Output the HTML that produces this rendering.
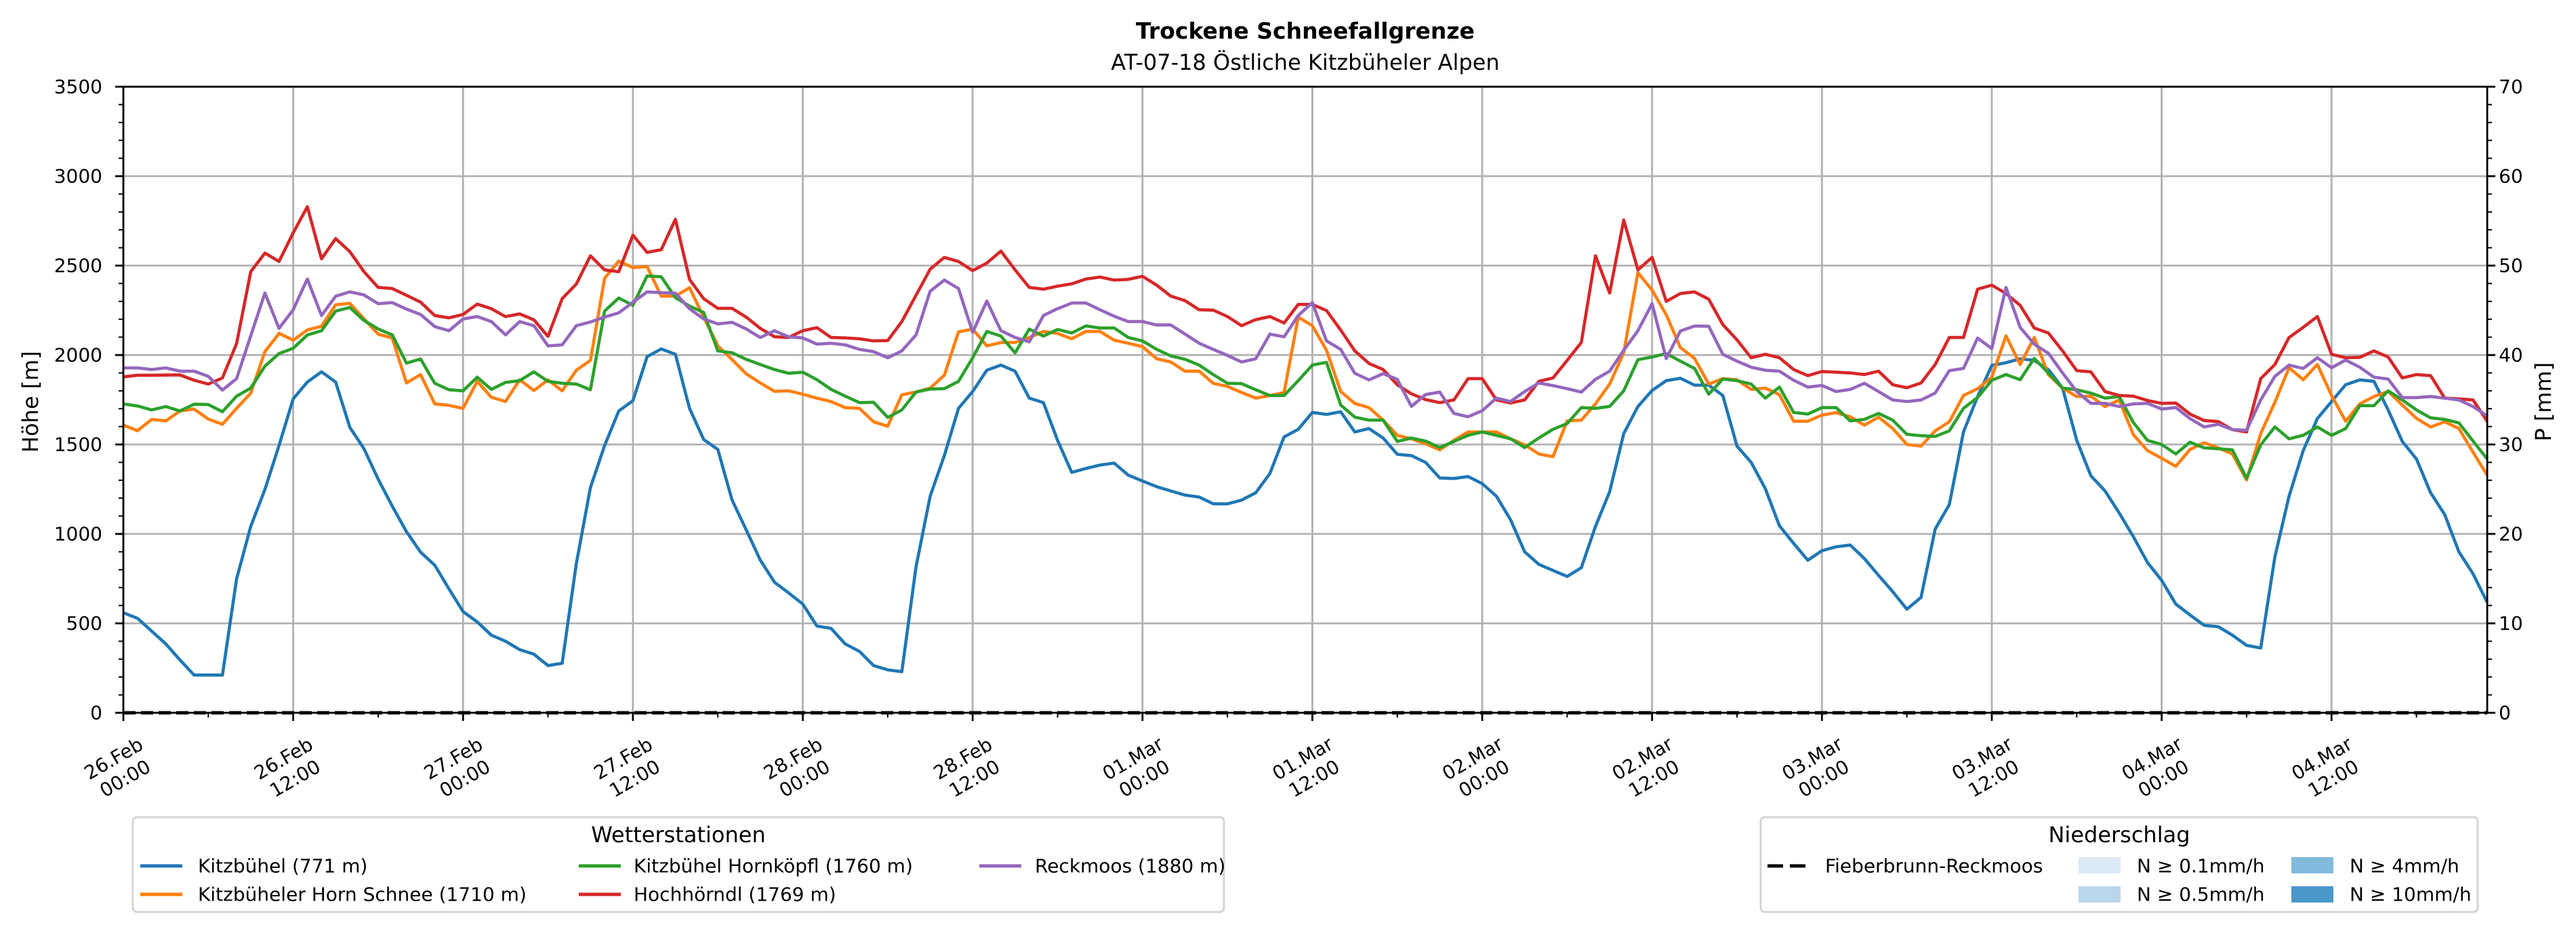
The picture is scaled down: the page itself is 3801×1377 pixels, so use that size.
<!DOCTYPE html>
<html><head><meta charset="utf-8">
<style>
html,body{margin:0;padding:0;background:#fff;}
svg{display:block;font-family:"DejaVu Sans","Liberation Sans",sans-serif;}
</style></head>
<body>
<svg id="chart" width="3801" height="1377" viewBox="0 0 3801 1377" xmlns="http://www.w3.org/2000/svg">
<rect x="0" y="0" width="3801" height="1377" fill="#fff"/>
<text x="1926" y="57" text-anchor="middle" font-size="33" font-weight="bold" fill="#000">Trockene Schneefallgrenze</text>
<text x="1926" y="103" text-anchor="middle" font-size="32" fill="#000">AT-07-18 Östliche Kitzbüheler Alpen</text>
<text x="0" y="0" transform="translate(45,593) rotate(-90)" text-anchor="middle" dominant-baseline="central" font-size="32" fill="#000">Höhe [m]</text>
<text x="0" y="0" transform="translate(3753,593) rotate(-90)" text-anchor="middle" dominant-baseline="central" font-size="32" fill="#000">P [mm]</text>
<g id="grid"></g>
<g id="series"></g>
<g id="axes"></g>

<g>
<rect x="196" y="1206" width="1610" height="140" rx="6" fill="#fff" stroke="#d5d5d5" stroke-width="3"/>
<text x="1001" y="1232" text-anchor="middle" dominant-baseline="central" font-size="32">Wetterstationen</text>
<g><line x1="207" y1="1278" x2="269" y2="1278" stroke="#1f77b4" stroke-width="5"/><text x="292" y="1278" dominant-baseline="central" font-size="28">Kitzbühel (771 m)</text></g>
<g><line x1="207" y1="1320" x2="269" y2="1320" stroke="#ff7f0e" stroke-width="5"/><text x="292" y="1320" dominant-baseline="central" font-size="28">Kitzbüheler Horn Schnee (1710 m)</text></g>
<g><line x1="854" y1="1278" x2="916" y2="1278" stroke="#2ca02c" stroke-width="5"/><text x="935" y="1278" dominant-baseline="central" font-size="28">Kitzbühel Hornköpfl (1760 m)</text></g>
<g><line x1="854" y1="1320" x2="916" y2="1320" stroke="#d62728" stroke-width="5"/><text x="935" y="1320" dominant-baseline="central" font-size="28">Hochhörndl (1769 m)</text></g>
<g><line x1="1445" y1="1278" x2="1507" y2="1278" stroke="#9467bd" stroke-width="5"/><text x="1527" y="1278" dominant-baseline="central" font-size="28">Reckmoos (1880 m)</text></g>
</g>

<g>
<rect x="2598" y="1206" width="1058" height="140" rx="6" fill="#fff" stroke="#d5d5d5" stroke-width="3"/>
<text x="3127" y="1232" text-anchor="middle" dominant-baseline="central" font-size="32">Niederschlag</text>
<g><line x1="2608" y1="1278" x2="2666" y2="1278" stroke="#000" stroke-width="5" stroke-dasharray="23,10"/><text x="2693" y="1278" dominant-baseline="central" font-size="28">Fieberbrunn-Reckmoos</text></g>
<g><rect x="3067" y="1265" width="62" height="24" fill="#dbe9f6"/><text x="3153" y="1278" dominant-baseline="central" font-size="28">N ≥ 0.1mm/h</text></g>
<g><rect x="3067" y="1308" width="62" height="24" fill="#bad6eb"/><text x="3153" y="1320" dominant-baseline="central" font-size="28">N ≥ 0.5mm/h</text></g>
<g><rect x="3381" y="1265" width="62" height="24" fill="#82badb"/><text x="3467" y="1278" dominant-baseline="central" font-size="28">N ≥ 4mm/h</text></g>
<g><rect x="3381" y="1308" width="62" height="24" fill="#4a98c9"/><text x="3467" y="1320" dominant-baseline="central" font-size="28">N ≥ 10mm/h</text></g>
</g>
</svg>
<script>
const xTickLabels = ["26.Feb|00:00","26.Feb|12:00","27.Feb|00:00","27.Feb|12:00","28.Feb|00:00","28.Feb|12:00","01.Mar|00:00","01.Mar|12:00","02.Mar|00:00","02.Mar|12:00","03.Mar|00:00","03.Mar|12:00","04.Mar|00:00","04.Mar|12:00"];
const xTickHours = [0,12,24,36,48,60,72,84,96,108,120,132,144,156];
const yTickValues = [0,500,1000,1500,2000,2500,3000,3500];
const y2TickValues = [0,10,20,30,40,50,60,70];
const precipHours = [0,167];
const precipValues = [0,0];
const kitzbuehel = [560,528,457,385,296,211,211,211,749,1042,1249,1494,1755,1849,1906,1849,1596,1476,1306,1155,1013,898,825,693,566,508,434,400,353,328,264,277,834,1259,1494,1687,1745,1991,2034,2004,1702,1528,1472,1190,
1023,853,730,670,608,485,472,385,343,264,240,230,815,1211,1438,1702,1796,1915,1944,1910,1759,1734,1523,1344,1366,1385,1396,1328,1296,1264,1240,1217,1206,1168,1168,1189,1230,1338,1542,1585,1679,1668,
1683,1570,1589,1536,1445,1438,1400,1313,1310,1321,1281,1211,1079,900,830,796,762,811,1042,1236,1561,1712,1802,1857,1870,1832,1832,1774,1491,1400,1253,1045,947,853,906,928,938,862,768,677,579,645,
1027,1164,1570,1768,1942,1957,1979,1970,1919,1815,1523,1325,1240,1117,985,840,740,608,547,489,481,434,377,362,872,1211,1466,1645,1740,1834,1861,1853,1693,1517,1419,1230,1108,900,777,617];
const hornSchnee = [1608,1577,1640,1632,1687,1698,1642,1613,1702,1787,2019,2121,2083,2140,2161,2281,2289,2202,2117,2095,1844,1891,1727,1719,1702,1853,1764,1740,1862,1802,1861,1800,1915,1970,2429,2525,2489,2495,2329,2329,2376,2212,2051,1975,
1895,1844,1797,1800,1781,1759,1740,1706,1702,1627,1602,1778,1793,1815,1887,2130,2145,2051,2070,2070,2098,2132,2121,2091,2132,2132,2083,2066,2047,1979,1961,1910,1910,1842,1825,1791,1759,1774,1791,2212,2164,2027,
1797,1729,1706,1636,1551,1532,1504,1470,1523,1570,1570,1570,1532,1498,1447,1432,1632,1636,1727,1838,2013,2461,2363,2225,2042,1981,1838,1868,1861,1808,1815,1778,1630,1630,1664,1678,1655,1608,1653,1589,1500,1491,
1576,1627,1774,1812,1876,2108,1947,2098,1891,1815,1768,1770,1712,1749,1555,1466,1423,1378,1472,1510,1481,1447,1302,1561,1736,1929,1862,1947,1774,1630,1727,1768,1797,1721,1646,1598,1627,1589,1457,1328];
const hornkoepfl = [1727,1715,1693,1712,1687,1725,1723,1683,1770,1815,1938,2008,2038,2112,2136,2246,2266,2193,2146,2113,1955,1978,1842,1806,1800,1876,1808,1847,1857,1906,1853,1842,1838,1806,2246,2319,2278,2442,2438,2321,2274,2238,2023,2013,
1976,1947,1919,1898,1904,1862,1808,1770,1734,1736,1651,1693,1793,1810,1812,1853,1985,2132,2106,2012,2145,2106,2143,2123,2163,2151,2151,2098,2079,2032,1995,1976,1944,1891,1842,1840,1806,1774,1774,1857,1944,1959,
1721,1653,1636,1636,1517,1536,1519,1483,1517,1551,1570,1551,1532,1483,1536,1585,1617,1706,1702,1713,1800,1974,1989,2008,1966,1925,1781,1866,1857,1838,1759,1821,1679,1670,1706,1706,1632,1640,1674,1636,1557,1549,
1545,1576,1702,1763,1859,1891,1862,1981,1900,1815,1806,1787,1759,1768,1623,1523,1500,1447,1513,1481,1476,1470,1311,1498,1598,1532,1551,1598,1551,1589,1717,1717,1800,1749,1693,1649,1640,1621,1519,1419];
const hochhoerndl = [1878,1887,1887,1888,1889,1859,1838,1872,2064,2466,2570,2523,2683,2829,2538,2651,2578,2466,2378,2372,2334,2296,2221,2208,2227,2285,2259,2215,2230,2197,2104,2315,2397,2555,2476,2466,2670,2574,2589,2759,2423,2315,2261,2261,
2212,2149,2102,2098,2136,2153,2098,2096,2091,2079,2081,2187,2334,2480,2546,2523,2472,2514,2581,2476,2378,2368,2385,2398,2425,2436,2419,2423,2440,2391,2329,2304,2253,2251,2215,2164,2198,2215,2179,2283,2283,2249,
2140,2023,1953,1919,1834,1783,1751,1734,1749,1868,1868,1749,1732,1749,1853,1872,1970,2070,2555,2347,2755,2476,2546,2300,2344,2353,2312,2170,2085,1985,2004,1985,1919,1885,1908,1904,1900,1891,1910,1834,1817,1844,
1947,2098,2098,2368,2391,2344,2278,2151,2123,2023,1913,1906,1796,1774,1770,1746,1730,1732,1670,1634,1628,1583,1570,1868,1947,2098,2155,2215,2004,1985,1987,2023,1989,1872,1891,1885,1759,1755,1749,1630];
const reckmoos = [1928,1928,1919,1928,1910,1910,1881,1804,1868,2108,2347,2149,2253,2425,2221,2329,2353,2336,2287,2293,2257,2227,2159,2136,2202,2215,2187,2113,2187,2164,2051,2057,2164,2185,2212,2236,2295,2353,2349,2346,2259,2202,2174,2183,
2146,2098,2136,2102,2096,2061,2066,2057,2032,2019,1985,2023,2112,2357,2419,2372,2127,2302,2136,2098,2074,2221,2259,2291,2291,2253,2217,2187,2187,2168,2168,2117,2066,2032,1998,1961,1979,2117,2102,2221,2293,2079,
2032,1898,1861,1896,1864,1713,1779,1793,1674,1655,1689,1759,1740,1796,1844,1829,1812,1793,1864,1910,2027,2136,2287,1980,2134,2162,2161,2004,1966,1932,1915,1910,1859,1821,1830,1796,1808,1842,1796,1749,1740,1749,
1787,1913,1925,2095,2036,2378,2155,2061,2010,1900,1796,1730,1730,1712,1727,1730,1698,1706,1645,1598,1613,1583,1579,1749,1881,1944,1925,1985,1929,1972,1932,1876,1866,1762,1762,1768,1759,1749,1712,1660];

const NS = "http://www.w3.org/2000/svg";
const L = 182, R = 3670, T = 128, B = 1052, HMAX = 167, YMAX = 3500, PMAX = 70;
function xs(h){ return L + h*(R-L)/HMAX; }
function ys(v){ return B - v*(B-T)/YMAX; }
function yp(v){ return B - v*(B-T)/PMAX; }
function mk(tag, attrs, parent){
  const e = document.createElementNS(NS, tag);
  for (const k in attrs) e.setAttribute(k, attrs[k]);
  parent.appendChild(e);
  return e;
}
const grid = document.getElementById('grid');
const axes = document.getElementById('axes');
const series = document.getElementById('series');

xTickHours.forEach(function(h){
  const g = mk('line', {x1:xs(h), x2:xs(h), y1:T, y2:B, stroke:'#b0b0b0', 'stroke-width':2.8}, grid);
  
  
});
yTickValues.forEach(function(v){
  const g = mk('line', {x1:L, x2:R, y1:ys(v), y2:ys(v), stroke:'#b0b0b0', 'stroke-width':2.8}, grid);
  
  
});

const cols = ['#1f77b4','#ff7f0e','#2ca02c','#d62728','#9467bd'];
const names = ['line-kitzbuehel','line-horn-schnee','line-hornkoepfl','line-hochhoerndl','line-reckmoos'];
[kitzbuehel, hornSchnee, hornkoepfl, hochhoerndl, reckmoos].forEach(function(arr, i){
  const pts = arr.map(function(v, h){ return xs(h).toFixed(1)+','+ys(v).toFixed(1); }).join(' ');
  const p = mk('polyline', {points:pts, fill:'none', stroke:cols[i], 'stroke-width':4.6, 'stroke-linejoin':'round'}, series);
  
  
});
const pp = precipHours.map(function(h, i){ return xs(h)+','+yp(precipValues[i]); }).join(' ');
const pl = mk('polyline', {points:pp, fill:'none', stroke:'#000', 'stroke-width':5, 'stroke-dasharray':'18,8'}, series);



const frame = mk('rect', {x:L, y:T, width:R-L, height:B-T, fill:'none', stroke:'#000', 'stroke-width':2.8}, axes);



for (let v = 0; v <= YMAX; v += 100) {
  const major = v % 500 === 0;
  const t = mk('line', {x1:L, x2:L-(major?12:7), y1:ys(v), y2:ys(v), stroke:'#000', 'stroke-width':major?2.8:2}, axes);
  
  
}
yTickValues.forEach(function(v){
  const t = mk('text', {x:151, y:ys(v), 'text-anchor':'end', 'dominant-baseline':'central', 'font-size':28}, axes);
  t.textContent = String(v);
  
  
});
for (let v = 0; v <= PMAX; v += 2) {
  const major = v % 10 === 0;
  const t = mk('line', {x1:R, x2:R+(major?12:7), y1:yp(v), y2:yp(v), stroke:'#000', 'stroke-width':major?2.8:2}, axes);
  
  
}
y2TickValues.forEach(function(v){
  const t = mk('text', {x:3687, y:yp(v), 'text-anchor':'start', 'dominant-baseline':'central', 'font-size':28}, axes);
  t.textContent = String(v);
  
  
});
for (let h = 0; h <= HMAX; h += 6) {
  const major = h % 12 === 0;
  const t = mk('line', {x1:xs(h), x2:xs(h), y1:B, y2:B+(major?12:7), stroke:'#000', 'stroke-width':major?2.8:2}, axes);
  
  
}
xTickLabels.forEach(function(lab, i){
  const parts = lab.split('|');
  const g = mk('g', {transform:'translate('+(xs(xTickHours[i])-6)+',1134) rotate(-30)'}, axes);
  
  
  const t1 = mk('text', {x:0, y:-7, 'text-anchor':'middle', 'font-size':28}, g);
  t1.textContent = parts[0];
  const t2 = mk('text', {x:0, y:27, 'text-anchor':'middle', 'font-size':28}, g);
  t2.textContent = parts[1];
});
</script>
</body></html>
